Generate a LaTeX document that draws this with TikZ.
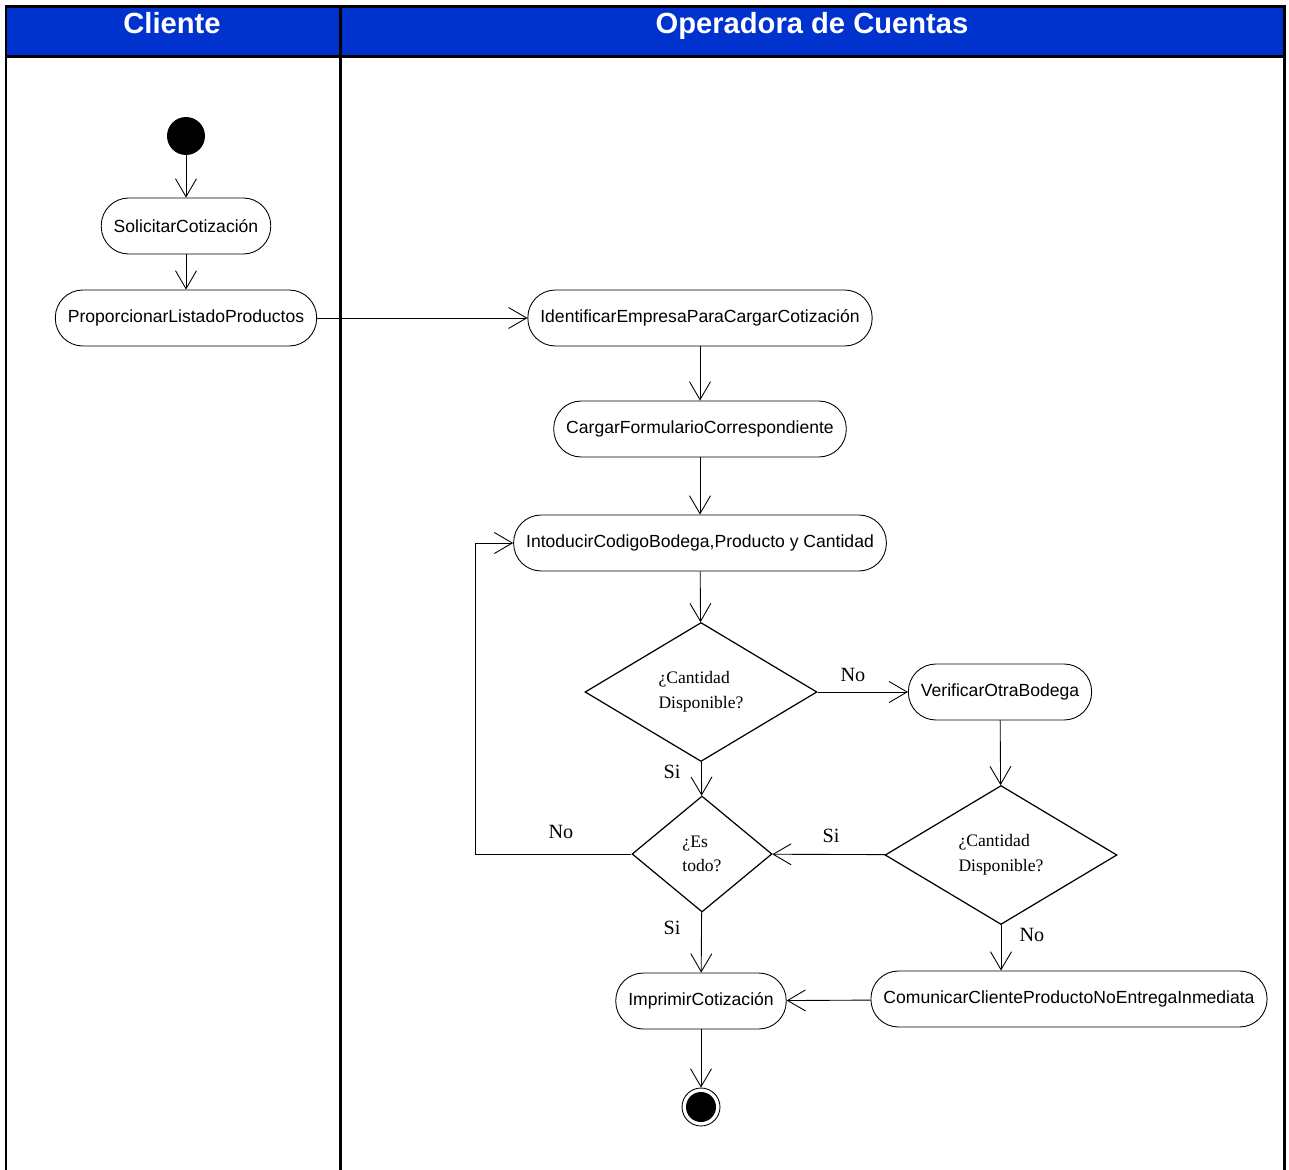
\documentclass[tikz,border=0pt]{standalone}
\usepackage{fontspec}
\setmainfont{Liberation Serif}
\setsansfont{Liberation Sans}
\usetikzlibrary{arrows.meta,shapes.geometric}
\definecolor{laneblue}{RGB}{0,50,206}

\begin{document}
\begin{tikzpicture}[x=0.02cm,y=-0.02cm]
\tikzstyle{act}=[draw,rectangle,rounded corners=0.55cm,minimum height=1.12cm,inner xsep=0.25cm,font=\sffamily\fontsize{10}{12}\selectfont,line width=0.5pt]
\tikzstyle{dec}=[draw,diamond,inner sep=0pt,align=left,font=\fontsize{10}{14}\selectfont,line width=0.7pt]
\tikzstyle{lbl}=[inner sep=0pt,font=\fontsize{11.5}{13}\selectfont]
\tikzstyle{head}=[anchor=base,text=white,font=\sffamily\bfseries\fontsize{16.6}{18}\selectfont]
\tikzstyle{flow}=[->,line width=0.5pt,>={Straight Barb[length=0.36cm,width=0.42cm]}]
\useasboundingbox (0,0) rectangle (1289,1170);
% lanes
\fill [laneblue] (6,6) rectangle (1284,56);
\draw [line width=0.06cm] (6,1170) -- (6,6) -- (1284,6) -- (1284,1170);
\draw [line width=0.06cm] (6,56) -- (1284,56);
\draw [line width=0.06cm] (340,6) -- (340,1170);
\node [head] (hcli) at (172,33) {Cliente};
\node [head] (hope) at (812,33) {Operadora de Cuentas};
% states
\node [circle,fill=black,minimum size=0.76cm,inner sep=0pt] (start) at (186,136) {};
\node [act] (solic) at (186,226) {SolicitarCotización};
\node [act] (propo) at (186,318) {ProporcionarListadoProductos};
\node [act] (ident) at (700,318) {IdentificarEmpresaParaCargarCotización};
\node [act] (carga) at (700,429) {CargarFormularioCorrespondiente};
\node [act] (intro) at (700,543) {IntoducirCodigoBodega,Producto y Cantidad};
\node [dec,minimum width=4.64cm,minimum height=2.78cm] (disp1) at (701,692) {¿Cantidad\\Disponible?};
\node [act] (verif) at (1000,692) {VerificarOtraBodega};
\node [dec,minimum width=2.8cm,minimum height=2.32cm] (todo) at (702,854) {¿Es\\todo?};
\node [dec,minimum width=4.64cm,minimum height=2.78cm] (disp2) at (1001,855) {¿Cantidad\\Disponible?};
\node [act] (impri) at (701,1001) {ImprimirCotización};
\node [act] (comun) at (1069,999) {ComunicarClienteProductoNoEntregaInmediata};
\node [circle,draw,line width=0.5pt,minimum size=0.76cm,inner sep=0pt] (fin) at (701,1107) {};
\fill [black] (fin.center) circle (0.3cm);
\coordinate (loop) at (475,854);
% transitions
\draw [flow] (start) -- (solic);
\draw [flow] (solic) -- (propo);
\draw [flow] (propo) -- (ident);
\draw [flow] (ident) -- (carga);
\draw [flow] (carga) -- (intro);
\draw [flow] (intro) -- (disp1);
\draw [flow] (disp1) -- (verif);
\draw [flow] (disp1) -- (todo);
\draw [flow] (verif) -- (disp2);
\draw [flow] (disp2) -- (todo);
\draw [flow] (todo.west) -- (loop) |- (intro.west);
\draw [flow] (todo) -- (impri);
\draw [flow] (disp2) -- (comun.north -| disp2.south);
\draw [flow] (comun) -- (impri);
\draw [flow] (impri) -- (fin);
% guards
\node [lbl] (gno1) at (853,675) {No};
\node [lbl] (gsi1) at (672,772) {Si};
\node [lbl] (gsi2) at (831,836) {Si};
\node [lbl] (gno2) at (561,832) {No};
\node [lbl] (gsi3) at (672,928) {Si};
\node [lbl] (gno3) at (1032,935) {No};
\end{tikzpicture}
\end{document}
